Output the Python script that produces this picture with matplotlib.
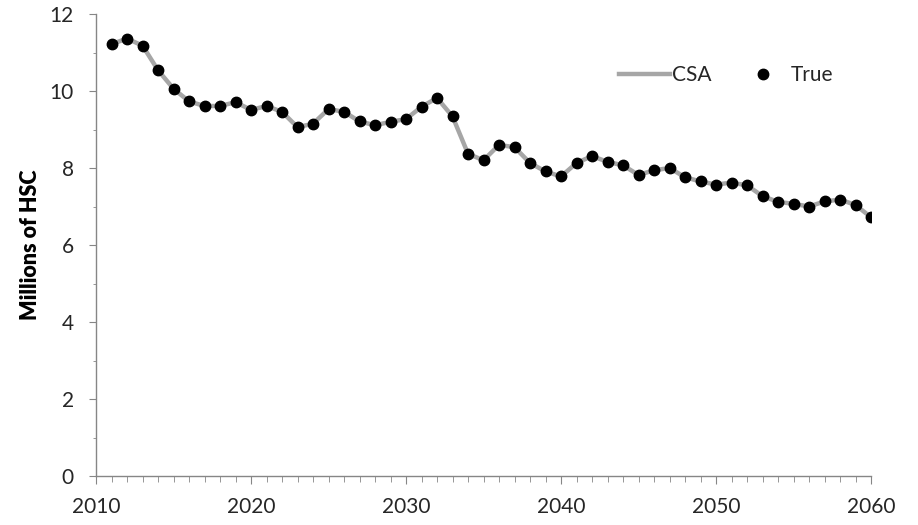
import matplotlib
matplotlib.use("Agg")
import matplotlib.pyplot as plt
from matplotlib.ticker import MultipleLocator

years = list(range(2011, 2061))
true_vals = [11.22, 11.36, 11.18, 10.54, 10.06, 9.73, 9.61, 9.61, 9.71, 9.51,
             9.61, 9.46, 9.06, 9.15, 9.53, 9.46, 9.21, 9.11, 9.20, 9.27,
             9.59, 9.82, 9.34, 8.37, 8.20, 8.60, 8.54, 8.13, 7.91, 7.78,
             8.13, 8.31, 8.16, 8.07, 7.82, 7.94, 8.00, 7.76, 7.65, 7.57,
             7.62, 7.55, 7.27, 7.12, 7.07, 7.00, 7.13, 7.18, 7.04, 6.72]
csa_vals = list(true_vals)

plt.rcParams['font.family'] = ['Lato', 'DejaVu Sans']

fig = plt.figure(figsize=(9.18, 5.25), dpi=100)
ax = fig.add_axes([96 / 918, 1 - 476 / 525, 775 / 918, 462 / 525])

ax.plot(years, csa_vals, color='#a6a6a6', lw=3.2, label='CSA', zorder=2)
ax.plot(years, true_vals, 'o', color='black', ms=7.5, label='True', zorder=3)

ax.set_xlim(2010, 2060)
ax.set_ylim(0, 12)
ax.xaxis.set_major_locator(MultipleLocator(10))
ax.xaxis.set_minor_locator(MultipleLocator(1))
ax.yaxis.set_major_locator(MultipleLocator(2))
ax.yaxis.set_minor_locator(MultipleLocator(1))

for s in ['top', 'right']:
    ax.spines[s].set_visible(False)
for s in ['left', 'bottom']:
    ax.spines[s].set_color('#868686')
    ax.spines[s].set_linewidth(1.0)

ax.tick_params(axis='x', which='major', direction='out', length=6, color='#868686',
               labelsize=15, labelcolor='#262626', pad=9)
ax.tick_params(axis='x', which='minor', direction='out', length=4, color='#868686')
ax.tick_params(axis='y', which='major', direction='out', length=5, color='#868686',
               labelsize=15, labelcolor='#262626', pad=11)
ax.tick_params(axis='y', which='minor', direction='out', length=2.5, color='#868686')

ax.set_ylabel('Millions of HSC', fontsize=15.5, fontweight='heavy')
ax.yaxis.set_label_coords((41 - 96) / 775, 0.5)

ax.legend(loc='center left', bbox_to_anchor=(619 / 918, 1 - 75 / 525),
          bbox_transform=fig.transFigure, ncol=2, frameon=False, borderpad=0,
          borderaxespad=0, fontsize=15, handlelength=2.45, columnspacing=1.25,
          handletextpad=0.1, labelcolor='#262626')

fig.savefig('out.png', dpi=100)
